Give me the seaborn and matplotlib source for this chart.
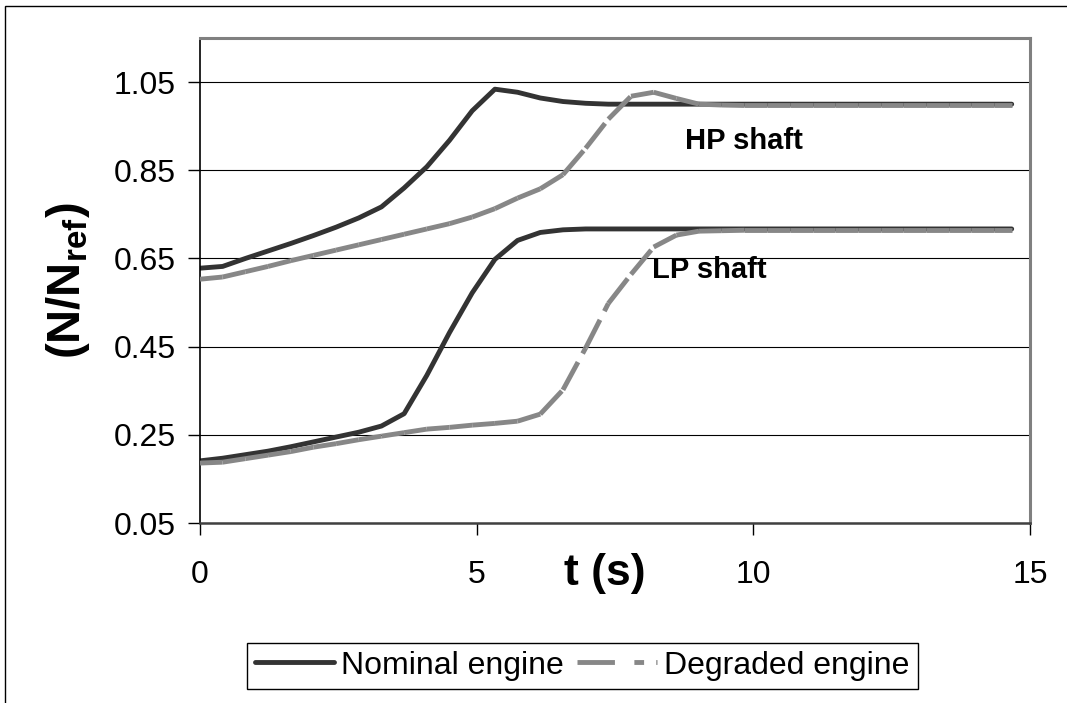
import numpy as np
import pandas as pd
import matplotlib
matplotlib.use('Agg')
import matplotlib.pyplot as plt
from matplotlib.collections import LineCollection
from matplotlib.lines import Line2D
from matplotlib.patches import Rectangle
import seaborn as sns

# shaft speed transients (N/Nref vs time in s)
time_s = [0.0, 0.41, 0.82, 1.23, 1.64, 2.05, 2.46, 2.87, 3.28, 3.69,
          4.10, 4.51, 4.92, 5.33, 5.74, 6.15, 6.56, 6.97, 7.38, 7.79,
          8.20, 8.61, 9.02, 9.43, 9.84, 10.25, 10.66, 11.07, 11.48, 11.89,
          12.30, 12.71, 13.12, 13.53, 13.94, 14.35, 14.67]

hp_nominal = [0.628, 0.632, 0.650, 0.667, 0.684, 0.702, 0.721, 0.742, 0.767, 0.810,
              0.858, 0.918, 0.985, 1.034, 1.027, 1.014, 1.006, 1.002, 1.000, 1.000,
              1.000, 1.000, 1.000, 1.000, 1.000, 1.000, 1.000, 1.000, 1.000, 1.000,
              1.000, 1.000, 1.000, 1.000, 1.000, 1.000, 1.000]

hp_degraded = [0.603, 0.608, 0.620, 0.632, 0.645, 0.657, 0.669, 0.681, 0.693, 0.705,
               0.717, 0.729, 0.744, 0.763, 0.787, 0.808, 0.840, 0.900, 0.966, 1.018,
               1.027, 1.013, 1.000, 0.998, 0.997, 0.997, 0.997, 0.997, 0.997, 0.997,
               0.997, 0.997, 0.997, 0.997, 0.997, 0.997, 0.997]

lp_nominal = [0.191, 0.197, 0.205, 0.213, 0.223, 0.234, 0.245, 0.256, 0.270, 0.298,
              0.385, 0.482, 0.572, 0.648, 0.691, 0.709, 0.715, 0.717, 0.717, 0.717,
              0.717, 0.717, 0.717, 0.717, 0.717, 0.717, 0.717, 0.717, 0.717, 0.717,
              0.717, 0.717, 0.717, 0.717, 0.717, 0.717, 0.717]

lp_degraded = [0.186, 0.188, 0.196, 0.204, 0.212, 0.222, 0.230, 0.239, 0.247, 0.255,
               0.263, 0.267, 0.272, 0.276, 0.281, 0.297, 0.352, 0.447, 0.548, 0.614,
               0.676, 0.703, 0.712, 0.713, 0.714, 0.714, 0.714, 0.714, 0.714, 0.714,
               0.714, 0.714, 0.714, 0.714, 0.714, 0.714, 0.714]

y_ticks = [0.05, 0.25, 0.45, 0.65, 0.85, 1.05]
y_tick_labels = ['0.05', '0.25', '0.45', '0.65', '0.85', '1.05']
x_ticks = [0, 5, 10, 15]
legend_labels = ['Nominal engine', 'Degraded engine']

NOMINAL_COLOR = '#333333'
DEGRADED_COLOR = '#878787'
LW = 3.5

sns.set_theme(style='white')
plt.rcParams['font.family'] = ['Liberation Sans', 'DejaVu Sans']
plt.rcParams['text.color'] = 'black'
plt.rcParams['mathtext.fontset'] = 'custom'
plt.rcParams['mathtext.rm'] = 'Liberation Sans'
plt.rcParams['mathtext.bf'] = 'Liberation Sans:bold'

df = pd.DataFrame({'t': time_s, 'HP': hp_nominal, 'LP': lp_nominal})
nominal = df.melt(id_vars='t', var_name='shaft', value_name='speed')

fig = plt.figure(figsize=(10.67, 7.03), dpi=100)
ax = fig.add_axes([0.1874, 0.256, 0.7779, 0.6899])

sns.lineplot(data=nominal, x='t', y='speed', units='shaft', estimator=None,
             color=NOMINAL_COLOR, lw=LW, ax=ax, legend=False, zorder=2)

# degraded curves: dash pattern restarts on every segment (like the original)
for vals in (hp_degraded, lp_degraded):
    pts = np.column_stack([time_s, vals])
    segs = np.stack([pts[:-1], pts[1:]], axis=1)
    lc = LineCollection(segs, colors=DEGRADED_COLOR, linewidths=LW,
                        linestyles=[(0, (6.5, 2.0))], capstyle='butt', zorder=3)
    ax.add_collection(lc)

ax.set_xlim(0, 15)
ax.set_ylim(0.05, 1.15)
ax.set_xticks(x_ticks)
ax.set_yticks(y_ticks)
ax.set_yticklabels(y_tick_labels)
ax.set_xlabel('')
ax.set_ylabel('')
ax.yaxis.grid(True, color='black', lw=0.8)
ax.xaxis.grid(False)

ax.tick_params(axis='y', direction='out', length=8.5, width=1, pad=9,
               labelsize=23, colors='black', left=True)
ax.tick_params(axis='x', direction='out', length=8.5, width=1, pad=18,
               labelsize=23, colors='black', bottom=True)
for side in ['top', 'right']:
    ax.spines[side].set_color('#808080')
    ax.spines[side].set_linewidth(2.2)
ax.spines['left'].set_color('black')
ax.spines['left'].set_linewidth(1.2)
ax.spines['bottom'].set_color('#404040')
ax.spines['bottom'].set_linewidth(1.8)

ax.text(8.77, 0.916, 'HP shaft', fontsize=21, fontweight='bold', va='center', ha='left',
        color='black')
ax.text(8.17, 0.624, 'LP shaft', fontsize=21, fontweight='bold', va='center', ha='left',
        color='black')

fig.text(68 / 1067, 1 - 281 / 703, r'(N/N$_{\mathbf{ref}}$)', rotation=90,
         fontsize=34, fontweight='bold', ha='center', va='center', color='black')
fig.text(605 / 1067, 1 - 574 / 703, 't (s)', fontsize=32, fontweight='bold',
         ha='center', va='center', color='black')

handles = [Line2D([], [], color=NOMINAL_COLOR, lw=LW),
           Line2D([], [], color=DEGRADED_COLOR, lw=LW, linestyle=(0, (7.7, 4.0, 2.0, 2.5)))]
leg = fig.legend(handles, legend_labels, loc='center', bbox_to_anchor=(0.5455, 0.0533),
                 ncol=2, frameon=True, fancybox=False, edgecolor='black', framealpha=1,
                 fontsize=23, handlelength=2.5, handletextpad=0.22, columnspacing=0.41,
                 borderpad=0.25, labelcolor='black')
leg.get_frame().set_linewidth(1.0)

# outer chart border
fig.patches.append(Rectangle((5 / 1067, -0.1), 1.2, 1 - 6 / 703 + 0.1, transform=fig.transFigure,
                             fill=False, edgecolor='black', lw=1.0))

fig.savefig('out.png', dpi=100)
